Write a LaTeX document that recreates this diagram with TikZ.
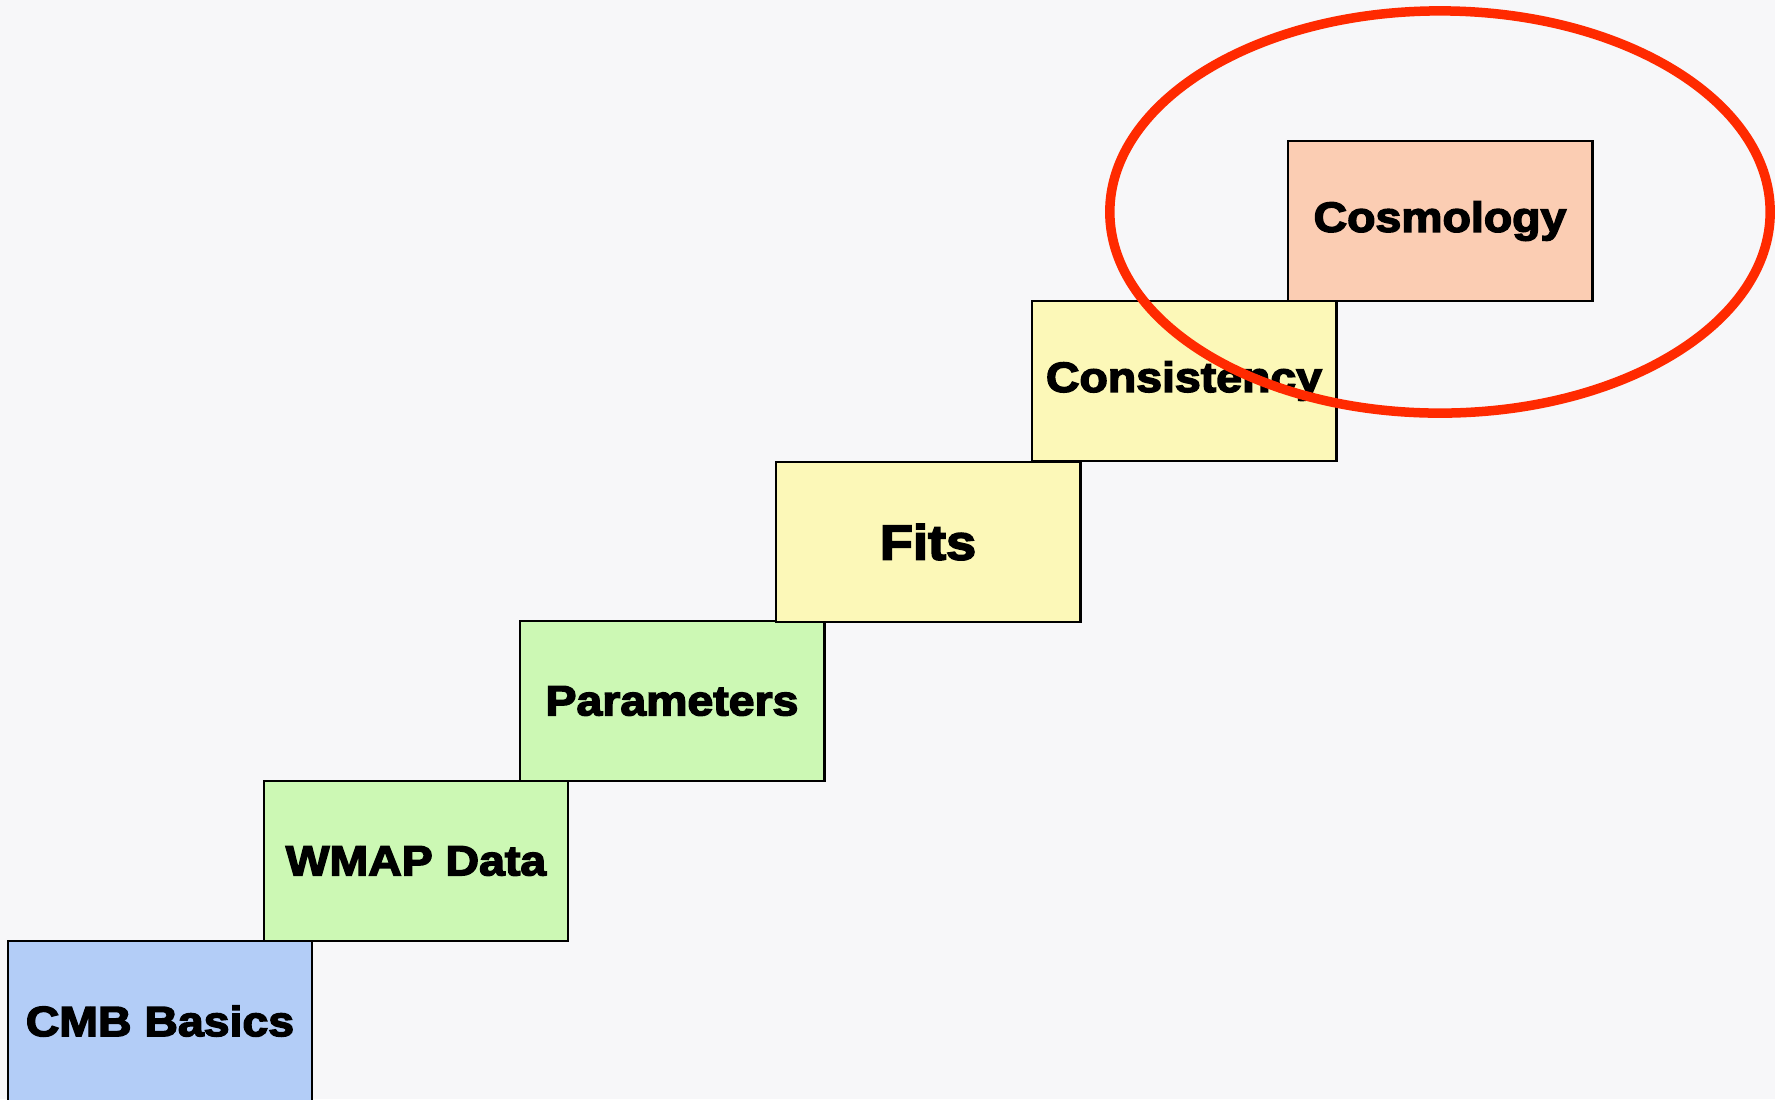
\documentclass[tikz,border=0pt]{standalone}
\usepackage{fontspec}
\newfontfamily\stairfont[FakeBold=3.5,FakeStretch=1.1]{Liberation Sans}
\usepackage{tikz}
\usetikzlibrary{shapes.geometric}

\definecolor{paper}{RGB}{247,247,249}
\definecolor{cmbblue}{RGB}{179,205,247}
\definecolor{datagreen}{RGB}{204,248,180}
\definecolor{fityellow}{RGB}{252,248,184}
\definecolor{cosmopeach}{RGB}{251,205,179}
\definecolor{ringred}{RGB}{255,42,0}

\begin{document}
\begin{tikzpicture}[x=0.01cm,y=-0.01cm]
\tikzstyle{stair}=[rectangle, draw, thick, minimum width = 3.04cm,
    minimum height = 1.6cm, inner sep=0pt, font=\stairfont\bfseries\fontsize{12}{14}\selectfont]
\tikzstyle{ring}=[draw=ringred, line width=0.095cm]

\fill[paper] (0,0) rectangle (1775,1099);
\useasboundingbox (0,0) rectangle (1775,1099);

    \node[stair, fill=cmbblue] (s1) at (160,1021) {CMB Basics};
    \node[stair, fill=datagreen] (s2) at (416,861) {WMAP Data};
    \node[stair, fill=datagreen] (s3) at (672,701) {Parameters};
    \node[stair, fill=fityellow, font=\stairfont\bfseries\fontsize{14}{16}\selectfont] (s4) at (928,542) {Fits};
    \node[stair, fill=fityellow] (s5) at (1184,381) {Consistency};
    \node[stair, fill=cosmopeach] (s6) at (1440,221) {Cosmology};

\draw[ring] (1440,212) ellipse [x radius=3.3cm, y radius=2.01cm];
\end{tikzpicture}
\end{document}
